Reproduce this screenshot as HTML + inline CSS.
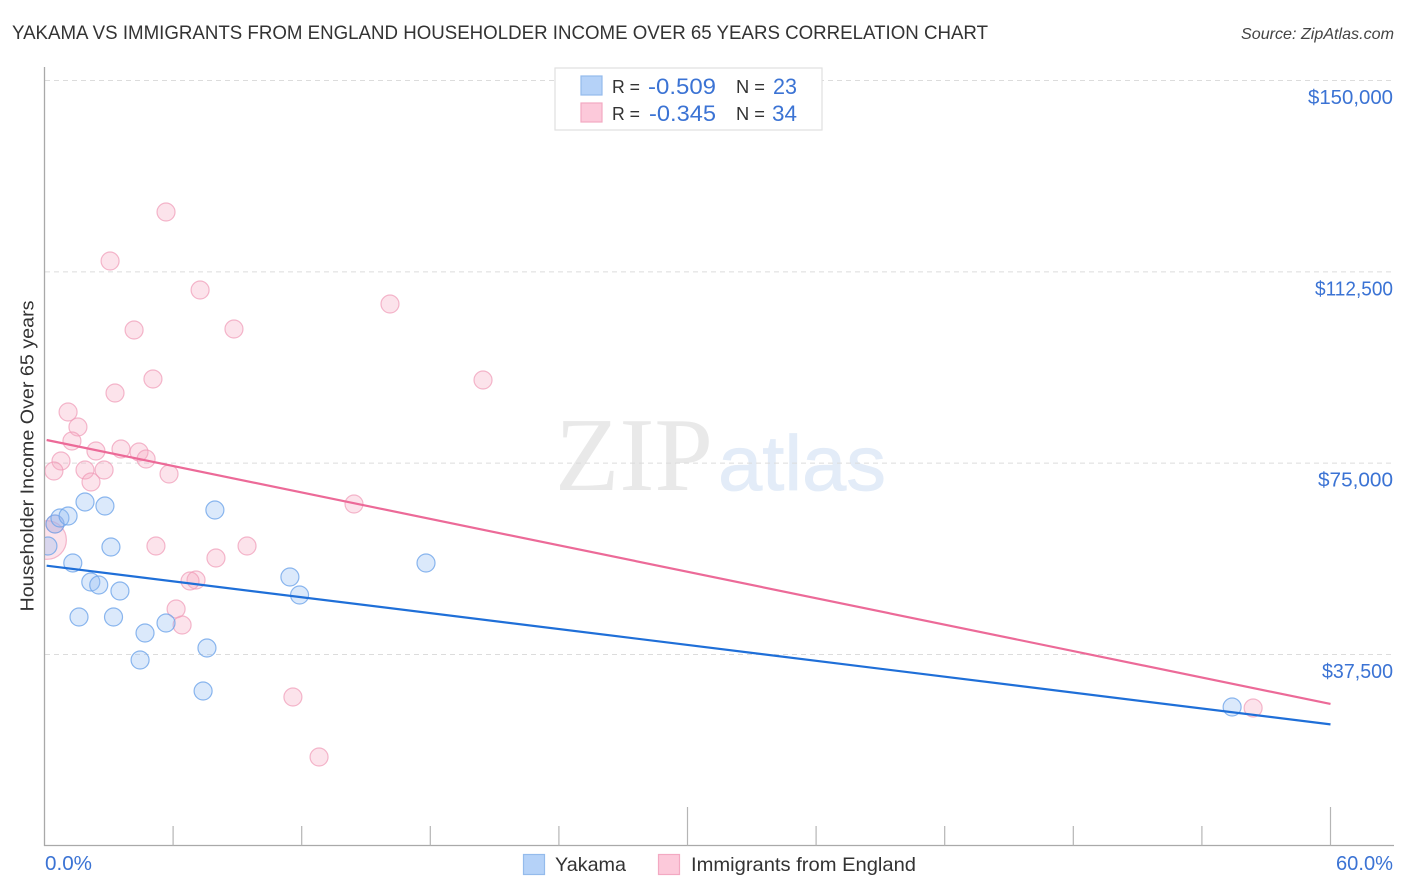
<!DOCTYPE html>
<html lang="en">
<head>
<meta charset="utf-8">
<title>Yakama vs Immigrants from England Householder Income Correlation Chart</title>
<style>
  html, body { margin: 0; padding: 0; background: #fff; }
  svg { display: block; font-family: "Liberation Sans", sans-serif; }
</style>
</head>
<body>
<svg id="chart" xmlns="http://www.w3.org/2000/svg" width="1406" height="892" viewBox="0 0 1406 892">
  <defs>
    <clipPath id="plot-clip"><rect x="45" y="60" width="1350" height="785"/></clipPath>
  </defs>
  <rect x="0" y="0" width="1406" height="892" fill="#fff"/>
  <text x="12" y="39" font-size="19.5" fill="#333" textLength="976" lengthAdjust="spacingAndGlyphs">YAKAMA VS IMMIGRANTS FROM ENGLAND HOUSEHOLDER INCOME OVER 65 YEARS CORRELATION CHART</text>
  <text x="1394" y="39" font-size="16" font-style="italic" fill="#444" text-anchor="end" textLength="153" lengthAdjust="spacingAndGlyphs">Source: ZipAtlas.com</text>
  <text x="555" y="490" font-family="'Liberation Serif', serif" font-size="105" fill="#e9e9e9" textLength="158" lengthAdjust="spacingAndGlyphs">ZIP</text>
  <text x="718" y="490" font-size="78" fill="#e3ecf8" stroke="#e3ecf8" stroke-width="0.8" textLength="168" lengthAdjust="spacingAndGlyphs">atlas</text>
  <g id="grid"></g>
  <g id="axes"></g>
  <g id="pink-points" clip-path="url(#plot-clip)"></g>
  <g id="blue-points" clip-path="url(#plot-clip)"></g>
  <g id="lines"></g>
  <g id="tick-labels"></g>
  <text transform="translate(33.5 456) rotate(-90)" font-size="18.5" fill="#333" text-anchor="middle" textLength="311" lengthAdjust="spacingAndGlyphs">Householder Income Over 65 years</text>

  <g>
    <rect x="555" y="68" width="267" height="62" fill="#fff" stroke="#e0e0e0" stroke-width="1.2"/>
    <rect x="581" y="76" width="21" height="19" fill="#b5d2f8" stroke="#94bbec" stroke-width="1.2"/>
    <rect x="581" y="103" width="21" height="19" fill="#fcc9da" stroke="#f3a9c2" stroke-width="1.2"/>
    <text x="612" y="93" font-size="18.5" fill="#333" textLength="28" lengthAdjust="spacingAndGlyphs">R =</text>
    <text x="648" y="94" font-size="22" fill="#3b73d4" textLength="68" lengthAdjust="spacingAndGlyphs">-0.509</text>
    <text x="736" y="93" font-size="18.5" fill="#333" textLength="29" lengthAdjust="spacingAndGlyphs">N =</text>
    <text x="773" y="94" font-size="22" fill="#3b73d4" textLength="24" lengthAdjust="spacingAndGlyphs">23</text>
    <text x="612" y="120" font-size="18.5" fill="#333" textLength="28" lengthAdjust="spacingAndGlyphs">R =</text>
    <text x="649" y="121" font-size="22" fill="#3b73d4" textLength="67" lengthAdjust="spacingAndGlyphs">-0.345</text>
    <text x="736" y="120" font-size="18.5" fill="#333" textLength="29" lengthAdjust="spacingAndGlyphs">N =</text>
    <text x="772" y="121" font-size="22" fill="#3b73d4" textLength="25" lengthAdjust="spacingAndGlyphs">34</text>
  </g>

  <g>
    <rect x="523.5" y="854.5" width="21" height="20" fill="#b5d2f8" stroke="#94bbec" stroke-width="1.2"/>
    <text x="555" y="871" font-size="19.5" fill="#333" textLength="71" lengthAdjust="spacingAndGlyphs">Yakama</text>
    <rect x="658.5" y="854.5" width="21" height="20" fill="#fcc9da" stroke="#f3a9c2" stroke-width="1.2"/>
    <text x="691" y="871" font-size="19.5" fill="#333" textLength="225" lengthAdjust="spacingAndGlyphs">Immigrants from England</text>
  </g>
</svg>

<script>
// Y axis tick values and labels
const yTickValues = [150000, 112500, 75000, 37500];
const yTickLabels = ["$150,000", "$112,500", "$75,000", "$37,500"];
// X axis ticks (percent)
const xTickValues = [6, 12, 18, 24, 30, 36, 42, 48, 54, 60];
const xMajorTicks = [30, 60];
const xEndLabels = ["0.0%", "60.0%"];

// Yakama series
const yakamaX = [0.16, 0.49, 0.72, 1.10, 1.32, 1.61, 1.89, 2.16, 2.53, 2.82, 3.10, 3.22, 3.52, 4.46, 4.69, 5.67, 7.40, 7.58, 7.95, 11.45, 11.90, 17.80, 55.41];
const yakamaY = [58762, 63074, 64250, 64642, 55430, 44846, 67386, 51706, 51118, 66602, 58566, 44846, 49942, 36418, 41710, 43670, 30342, 38770, 65818, 52686, 49158, 55430, 27206];

// Immigrants from England series
const englandX = [5.67, 3.06, 7.26, 16.12, 4.18, 8.84, 5.06, 20.46, 3.29, 1.10, 1.56, 1.28, 0.77, 2.40, 3.57, 4.41, 4.74, 0.44, 1.89, 2.78, 5.81, 2.17, 14.44, 0.49, 0.12, 5.20, 9.45, 8.00, 7.07, 6.79, 6.14, 6.42, 11.59, 12.81, 56.39];
const englandY = [124226, 114622, 108938, 106194, 101098, 101294, 91494, 91298, 88750, 85026, 82086, 79342, 75422, 77382, 77774, 77186, 75814, 73462, 73658, 73658, 72874, 71306, 66994, 63074, 59938, 58762, 58762, 56410, 52098, 51902, 46414, 43278, 29166, 17406, 27010];
const englandWeight = [1, 1, 1, 1, 1, 1, 1, 1, 1, 1, 1, 1, 1, 1, 1, 1, 1, 1, 1, 1, 1, 1, 1, 1, 4.6, 1, 1, 1, 1, 1, 1, 1, 1, 1, 1];

// Trend lines: [x start, x end] and [y start, y end]
const yakamaTrendX = [0.1, 60];
const yakamaTrendY = [54900, 23800];
const englandTrendX = [0.1, 60];
const englandTrendY = [79540, 27800];

const SVG_NS = "http://www.w3.org/2000/svg";
function xScale(v) { return 44.5 + v / 60 * 1286; }
function yScale(v) { return 80.5 + (150000 - v) / 37500 * 191.33; }
function make(tag, attrs, parent) {
  const el = document.createElementNS(SVG_NS, tag);
  for (const k in attrs) el.setAttribute(k, attrs[k]);
  parent.appendChild(el);
  return el;
}

const gridG = document.getElementById("grid");
const axesG = document.getElementById("axes");
const labelG = document.getElementById("tick-labels");
const pinkG = document.getElementById("pink-points");
const blueG = document.getElementById("blue-points");
const linesG = document.getElementById("lines");

const yLabelWidths = { 0: 85, 1: 78, 2: 75, 3: 71 };
yTickValues.forEach(function (v, i) {
  const y = yScale(v);
  const g = make("line", { x1: 45, x2: 1394, y1: y, y2: y, stroke: "#dcdcdc", "stroke-width": 1, "stroke-dasharray": "5 4" }, gridG);
  
  
  const t = make("text", { x: 1393, y: y + 23.5, "font-size": 20, fill: "#3b73d4", "text-anchor": "end", textLength: yLabelWidths[i], lengthAdjust: "spacingAndGlyphs" }, labelG);
  t.textContent = yTickLabels[i];
  
  
});

const yAxis = make("line", { x1: 44.5, x2: 44.5, y1: 67, y2: 846, stroke: "#a9a9a9", "stroke-width": 1.3 }, axesG);


const xAxis = make("line", { x1: 44, x2: 1394, y1: 845.5, y2: 845.5, stroke: "#a9a9a9", "stroke-width": 1.3 }, axesG);



xTickValues.forEach(function (v) {
  const x = xScale(v);
  const top = xMajorTicks.indexOf(v) >= 0 ? 807 : 826;
  const t = make("line", { x1: x, x2: x, y1: top, y2: 845.5, stroke: "#b5b5b5", "stroke-width": 1.2 }, axesG);
  
  
});

const x0Label = make("text", { x: 45, y: 870, "font-size": 20, fill: "#3b73d4", textLength: 47, lengthAdjust: "spacingAndGlyphs" }, labelG);
x0Label.textContent = xEndLabels[0];


const x1Label = make("text", { x: 1393, y: 870, "font-size": 20, fill: "#3b73d4", "text-anchor": "end", textLength: 57, lengthAdjust: "spacingAndGlyphs" }, labelG);
x1Label.textContent = xEndLabels[1];



englandX.forEach(function (v, i) {
  const c = make("circle", { cx: xScale(v), cy: yScale(englandY[i]), r: 9 * Math.sqrt(englandWeight[i]), fill: "#f7a8c0", "fill-opacity": 0.32, stroke: "#ef9ab6", "stroke-opacity": 0.7, "stroke-width": 1.2 }, pinkG);
  
  
});
yakamaX.forEach(function (v, i) {
  const c = make("circle", { cx: xScale(v), cy: yScale(yakamaY[i]), r: 9, fill: "#92bdf2", "fill-opacity": 0.33, stroke: "#6fa5ea", "stroke-opacity": 0.8, "stroke-width": 1.2 }, blueG);
  
  
});

const pinkLine = make("line", { x1: xScale(englandTrendX[0]), x2: xScale(englandTrendX[1]), y1: yScale(englandTrendY[0]), y2: yScale(englandTrendY[1]), stroke: "#ec6a98", "stroke-width": 2.2 }, linesG);


const blueLine = make("line", { x1: xScale(yakamaTrendX[0]), x2: xScale(yakamaTrendX[1]), y1: yScale(yakamaTrendY[0]), y2: yScale(yakamaTrendY[1]), stroke: "#1f6fd8", "stroke-width": 2.2 }, linesG);


</script>
</body>
</html>
